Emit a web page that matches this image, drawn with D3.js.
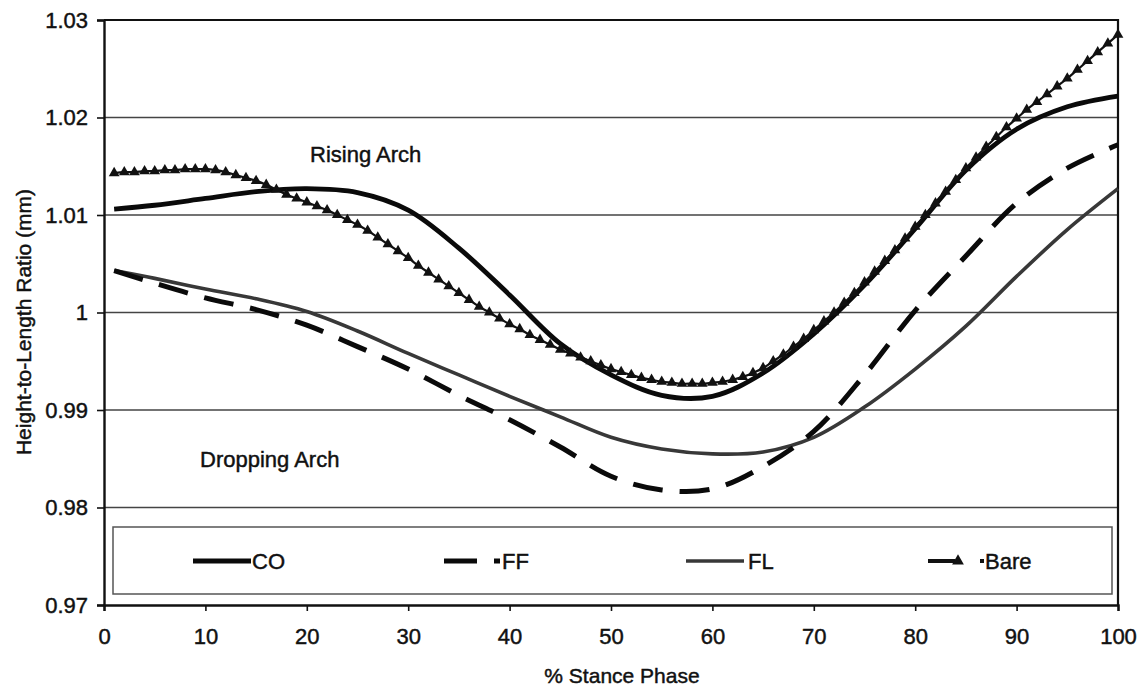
<!DOCTYPE html>
<html>
<head>
<meta charset="utf-8">
<script src="https://cdn.jsdelivr.net/npm/d3@7"></script>
<style>
  html, body { margin: 0; padding: 0; background: #ffffff; }
  svg { display: block; font-family: "Liberation Sans", Arial, Helvetica, sans-serif; }
  svg text { stroke: #111; stroke-width: 0.45px; }
</style>
</head>
<body>
<svg id="chart" width="1140" height="686"></svg>
<script>
// Stance phase positions (%) for the smooth curves
const phase = [1, 5, 10, 15, 20, 25, 30, 35, 40, 45, 50, 55, 60, 65, 70, 75, 80, 85, 90, 95, 100];

// Height-to-length ratio per condition
const coValues = [1.0106, 1.0110, 1.0117, 1.0124, 1.0127, 1.0123, 1.0105, 1.0066, 1.0018, 0.9968,
                  0.9936, 0.9915, 0.9914, 0.9938, 0.9978, 1.0028, 1.0086, 1.0146, 1.0188, 1.0211, 1.0222];
const ffValues = [1.0043, 1.0030, 1.0015, 1.0003, 0.9987, 0.9965, 0.9942, 0.9915, 0.9890, 0.9862,
                  0.9832, 0.9818, 0.9819, 0.9842, 0.9878, 0.9936, 1.0002, 1.0058, 1.0112, 1.0148, 1.0172];
const flValues = [1.0043, 1.0035, 1.0024, 1.0014, 1.0001, 0.9981, 0.9958, 0.9936, 0.9914, 0.9893,
                  0.9872, 0.9860, 0.9855, 0.9857, 0.9872, 0.9903, 0.9942, 0.9986, 1.0037, 1.0085, 1.0127];

// Barefoot condition, sampled at every 1% of stance (marker per sample)
const barePhase = d3.range(1, 101);
const bareValues = [
  1.0143, 1.0144, 1.0144, 1.0145, 1.0145, 1.0146, 1.0146, 1.0147, 1.0147, 1.0147,
  1.0146, 1.0144, 1.0141, 1.0138, 1.0135, 1.0131, 1.0126, 1.0121, 1.0117, 1.0113,
  1.0109, 1.0105, 1.0100, 1.0095, 1.0090, 1.0084, 1.0077, 1.0070, 1.0063, 1.0056,
  1.0048, 1.0041, 1.0034, 1.0027, 1.0020, 1.0013, 1.0006, 1.0000, 0.9994, 0.9988,
  0.9983, 0.9977, 0.9972, 0.9967, 0.9962, 0.9958, 0.9954, 0.9950, 0.9946, 0.9942,
  0.9939, 0.9936, 0.9933, 0.9931, 0.9929, 0.9928, 0.9927, 0.9927, 0.9927, 0.9928,
  0.9929, 0.9931, 0.9934, 0.9938, 0.9943, 0.9950, 0.9957, 0.9965, 0.9973, 0.9982,
  0.9991, 1.0000, 1.0010, 1.0020, 1.0031, 1.0042, 1.0053, 1.0064, 1.0076, 1.0088,
  1.0100, 1.0112, 1.0124, 1.0136, 1.0148, 1.0159, 1.0170, 1.0180, 1.0190, 1.0199,
  1.0208, 1.0216, 1.0224, 1.0232, 1.0240, 1.0249, 1.0258, 1.0267, 1.0276, 1.0285
];

// Axis ticks and labels
const xTicks = [0, 10, 20, 30, 40, 50, 60, 70, 80, 90, 100];
const yTicks = [0.97, 0.98, 0.99, 1.00, 1.01, 1.02, 1.03];
const yTickLabels = ["0.97", "0.98", "0.99", "1", "1.01", "1.02", "1.03"];

const legendNames = ["CO", "FF", "FL", "Bare"];

const svg = d3.select("#chart");
const plotL = 104, plotR = 1118, plotT = 20, plotB = 605;

const x = d3.scaleLinear().domain([0, 100]).range([plotL, plotR]);
const y = d3.scaleLinear().domain([0.97, 1.03]).range([plotB, plotT]);

// Horizontal gridlines
svg.append("g")
  .selectAll("line")
  .data(yTicks.slice(1, -1))
  .join("line")
  .attr("x1", plotL).attr("x2", plotR)
  .attr("y1", d => y(d)).attr("y2", d => y(d))
  .attr("stroke", "#444").attr("stroke-width", 1.7);

// Plot frame (top and right edges)
svg.append("path")
  .attr("d", `M${plotL},${plotT}H${plotR}V${plotB}`)
  .attr("fill", "none").attr("stroke", "#111").attr("stroke-width", 2.2);

// Legend box
const legendBox = { x: 113, y: 527, w: 999, h: 67 };
svg.append("rect")
  .attr("x", legendBox.x).attr("y", legendBox.y)
  .attr("width", legendBox.w).attr("height", legendBox.h)
  .attr("fill", "#fff").attr("stroke", "#555").attr("stroke-width", 1.5);

// Axes
const yAxis = d3.axisLeft(y).tickValues(yTicks)
  .tickFormat((d, i) => yTickLabels[i]).tickSize(7).tickPadding(9);
const xAxis = d3.axisBottom(x).tickValues(xTicks)
  .tickFormat(d3.format("d")).tickSize(6).tickPadding(17);

const gy = svg.append("g").attr("transform", `translate(${plotL},0)`).call(yAxis);
const gx = svg.append("g").attr("transform", `translate(0,${plotB})`).call(xAxis);
[gx, gy].forEach(g => {
  g.select(".domain").attr("stroke", "#111").attr("stroke-width", 2.4);
  g.selectAll(".tick line").attr("stroke", "#111").attr("stroke-width", 1.6);
  g.selectAll("text").attr("fill", "#111")
    .style("font-family", "'Liberation Sans', Arial, sans-serif")
    .style("font-size", "22px");
});

// Series lines
const line = d3.line().curve(d3.curveCatmullRom.alpha(0.5));
function series(xs, ys) { return xs.map((p, i) => [x(p), y(ys[i])]); }

svg.append("path")
  .attr("d", line(series(phase, flValues)))
  .attr("fill", "none").attr("stroke", "#383838").attr("stroke-width", 3.6);

svg.append("path")
  .attr("d", line(series(phase, ffValues)))
  .attr("fill", "none").attr("stroke", "#0a0a0a").attr("stroke-width", 5)
  .attr("stroke-dasharray", "30 17");

svg.append("path")
  .attr("d", line(series(phase, coValues)))
  .attr("fill", "none").attr("stroke", "#0a0a0a").attr("stroke-width", 4.8);

svg.append("path")
  .attr("d", line(series(barePhase, bareValues)))
  .attr("fill", "none").attr("stroke", "#111").attr("stroke-width", 2.2);

const tri = d3.symbol().type(d3.symbolTriangle).size(50);
svg.append("g")
  .selectAll("path")
  .data(barePhase.map((p, i) => [p, bareValues[i]]))
  .join("path")
  .attr("transform", d => `translate(${x(d[0])},${y(d[1])})`)
  .attr("d", tri)
  .attr("fill", "#111");

// Legend entries
const legendY = 561;
const lg = svg.append("g").style("font-size", "22px").attr("fill", "#111");

lg.append("line").attr("x1", 193).attr("x2", 251).attr("y1", legendY).attr("y2", legendY)
  .attr("stroke", "#0a0a0a").attr("stroke-width", 4.8);
lg.append("text").attr("x", 252).attr("y", legendY + 8).text(legendNames[0]);

lg.append("line").attr("x1", 444).attr("x2", 500).attr("y1", legendY).attr("y2", legendY)
  .attr("stroke", "#0a0a0a").attr("stroke-width", 5).attr("stroke-dasharray", "33 17");
lg.append("text").attr("x", 502).attr("y", legendY + 8).text(legendNames[1]);

lg.append("line").attr("x1", 686).attr("x2", 744).attr("y1", legendY).attr("y2", legendY)
  .attr("stroke", "#383838").attr("stroke-width", 3.6);
lg.append("text").attr("x", 748).attr("y", legendY + 8).text(legendNames[2]);

lg.append("line").attr("x1", 928).attr("x2", 984).attr("y1", legendY).attr("y2", legendY)
  .attr("stroke", "#111").attr("stroke-width", 4).attr("stroke-dasharray", "27 25 4");
lg.append("path").attr("transform", `translate(958,${legendY})`)
  .attr("d", d3.symbol().type(d3.symbolTriangle).size(60)).attr("fill", "#111");
lg.append("text").attr("x", 985).attr("y", legendY + 8).text(legendNames[3]);

// Annotations
svg.append("text").attr("x", 310).attr("y", 162)
  .style("font-size", "22px").attr("fill", "#111").text("Rising Arch");
svg.append("text").attr("x", 200).attr("y", 467)
  .style("font-size", "22px").attr("fill", "#111").text("Dropping Arch");

// Axis titles
svg.append("text")
  .attr("x", 622).attr("y", 683).attr("text-anchor", "middle")
  .style("font-size", "21px").attr("fill", "#111").text("% Stance Phase");
svg.append("text")
  .attr("transform", "translate(31,322) rotate(-90)").attr("text-anchor", "middle")
  .style("font-size", "21px").attr("fill", "#111").text("Height-to-Length Ratio (mm)");
</script>
</body>
</html>
